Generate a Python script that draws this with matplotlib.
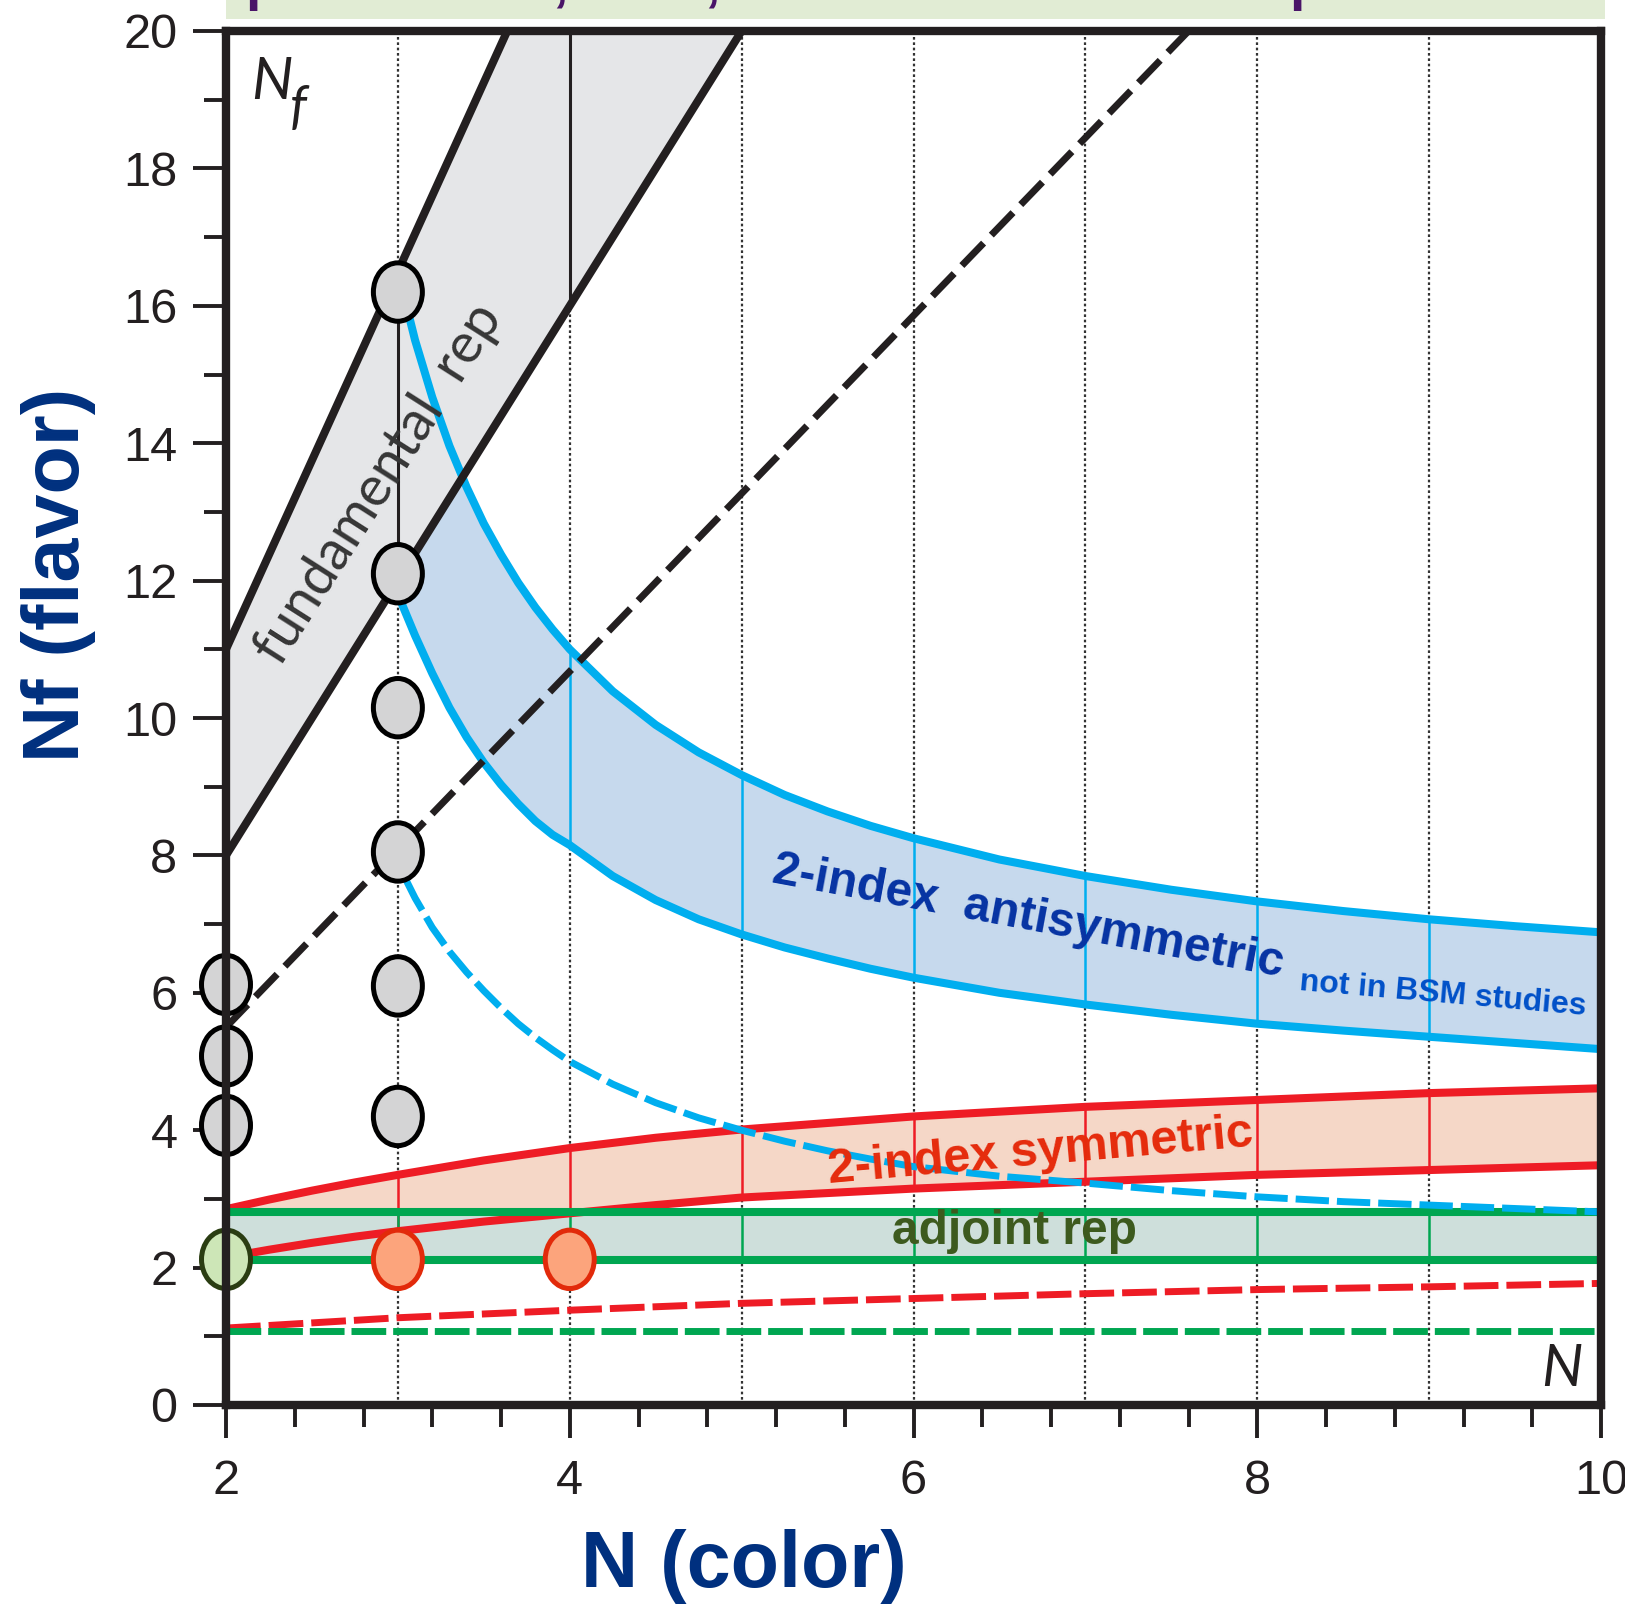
import numpy as np
import matplotlib
matplotlib.use("Agg")
import matplotlib.pyplot as plt
from matplotlib.patches import Ellipse, Rectangle
from matplotlib.ticker import MultipleLocator, FixedLocator

# ---------------- data ----------------
# fundamental representation band
fund_N = [2, 3, 4, 5]
fund_lo = [8, 12, 16, 20]
fund_hi = [11, 16.5, 22, 27.5]
fund_vert_N = [3, 4]

# black dashed line
bdash_N = [2, 7.6]
bdash_Nf = [5.5, 20]

# 2-index antisymmetric band (upper / lower boundaries)
blue_hi_N = [3.04, 3.1, 3.2, 3.3, 3.4, 3.5, 3.6, 3.7, 3.8, 3.9, 4.0, 4.25, 4.5,
             4.75, 5, 5.25, 5.5, 5.75, 6, 6.5, 7, 7.5, 8, 8.5, 9, 9.5, 10]
blue_hi = [16.1, 15.5, 14.67, 13.96, 13.36, 12.83, 12.38, 11.97, 11.61, 11.29, 11.0,
           10.39, 9.9, 9.5, 9.17, 8.88, 8.64, 8.43, 8.25, 7.94, 7.7, 7.5, 7.33, 7.19,
           7.07, 6.97, 6.88]
blue_lo_N = [3.0, 3.1, 3.2, 3.3, 3.4, 3.5, 3.6, 3.7, 3.8, 3.9, 4.0, 4.25, 4.5,
             4.75, 5, 5.25, 5.5, 5.75, 6, 6.5, 7, 7.5, 8, 8.5, 9, 9.5, 10]
blue_lo = [11.8, 11.2, 10.65, 10.15, 9.72, 9.35, 9.03, 8.75, 8.5, 8.3, 8.15, 7.7, 7.35,
           7.07, 6.85, 6.66, 6.5, 6.35, 6.22, 6.0, 5.83, 5.68, 5.55, 5.45, 5.36, 5.27, 5.18]
blue_vert_N = [4, 5, 6, 7, 8, 9]

# blue dashed curve
bldash_N = [3.05, 3.1, 3.2, 3.3, 3.4, 3.5, 3.6, 3.7, 3.8, 3.9, 4.0, 4.25, 4.5, 4.75,
            5, 5.25, 5.5, 5.75, 6, 6.5, 7, 7.5, 8, 8.5, 9, 9.5, 10]
bldash_Nf = [7.63, 7.38, 6.95, 6.6, 6.3, 6.03, 5.78, 5.55, 5.35, 5.17, 5.0, 4.67, 4.4,
             4.18, 4.0, 3.84, 3.7, 3.58, 3.47, 3.33, 3.23, 3.12, 3.03, 2.96, 2.91, 2.86, 2.81]

# 2-index symmetric band
red_N = [2, 2.25, 2.5, 2.75, 3, 3.5, 4, 4.5, 5, 6, 7, 8, 9, 10]
red_hi = [2.85, 2.99, 3.12, 3.24, 3.35, 3.56, 3.74, 3.89, 4.01, 4.20, 4.34, 4.44, 4.54, 4.61]
red_lo = [2.15, 2.26, 2.36, 2.45, 2.53, 2.67, 2.79, 2.91, 3.02, 3.15, 3.25, 3.35, 3.42, 3.49]
red_vert_N = [3, 4, 5, 6, 7, 8, 9]

# red dashed curve
rdash_N = [2, 3, 4, 5, 6, 7, 8, 9, 10]
rdash_Nf = [1.12, 1.27, 1.38, 1.48, 1.55, 1.62, 1.68, 1.72, 1.77]

# adjoint band
adj_N = [2, 10]
adj_hi = [2.81, 2.81]
adj_lo = [2.11, 2.11]
adj_vert_N = [3, 4, 5, 6, 7, 8, 9]
gdash_Nf = [1.08, 1.08]

# markers (lattice studies)
gray_pts_N = [2, 2, 2, 3, 3, 3, 3, 3, 3]
gray_pts_Nf = [6.12, 5.08, 4.07, 16.2, 12.1, 10.15, 8.05, 6.1, 4.2]
green_pts_N = [2]
green_pts_Nf = [2.12]
orange_pts_N = [3, 4]
orange_pts_Nf = [2.12, 2.12]

grid_N = [3, 4, 5, 6, 7, 8, 9]
y_major = [0, 2, 4, 6, 8, 10, 12, 14, 16, 18, 20]
x_major = [2, 4, 6, 8, 10]

# ---------------- styling ----------------
BLACK = "#231f20"
BLUE = "#00aeef"
RED = "#ee1c25"
GREEN = "#00a651"
NAVY = "#00307f"

W, H = 1625, 1618
fig = plt.figure(figsize=(W / 100, H / 100), dpi=100)
ax = fig.add_axes([226 / W, 1 - 1405 / H, 1375 / W, 1374 / H])
ax.set_xlim(2, 10)
ax.set_ylim(0, 20)

# banner at the top (cut off in the original)
fig.patches.append(Rectangle((226 / W, 1 - 19 / H), 1379 / W, 19 / H,
                             transform=fig.transFigure, facecolor="#e1ecd4",
                             edgecolor="none", zorder=0))
for xp, ch in [(262, "p"), (560, ","), (712, ","), (1306, "p")]:
    fig.text(xp / W, 1 + 1.0 / H, ch, color="#4a1468", fontsize=40,
             fontweight="bold", family="Liberation Sans", ha="center",
             va="baseline")

# dotted grid
for n in grid_N:
    ax.plot([n, n], [0, 20], color="#333333", lw=1.6, ls=(0, (1.2, 1.2)), zorder=1)

# fills
blue_fill_hi = np.interp(blue_lo_N, blue_hi_N, blue_hi, left=16.5)
ax.fill_between(blue_lo_N, blue_lo, blue_fill_hi, color="#c6d9ed", lw=0, zorder=2)
ax.fill_between(red_N, red_lo, red_hi, color="#f5d7c7", lw=0, zorder=2)
ax.fill_between(adj_N, adj_lo, adj_hi, color="#cedfdb", lw=0, zorder=2.5)
ax.fill_between(fund_N, fund_lo, fund_hi, color="#e5e6e8", lw=0, zorder=3)

# thin vertical lines inside bands
for n in fund_vert_N:
    ax.plot([n, n], [np.interp(n, fund_N, fund_lo), np.interp(n, fund_N, fund_hi)],
            color=BLACK, lw=2.2, zorder=3.5)
for n in blue_vert_N:
    ax.plot([n, n], [np.interp(n, blue_lo_N, blue_lo), np.interp(n, blue_hi_N, blue_hi)],
            color=BLUE, lw=1.8, zorder=3.5)
for n in red_vert_N:
    ax.plot([n, n], [np.interp(n, red_N, red_lo), np.interp(n, red_N, red_hi)],
            color=RED, lw=1.8, zorder=3.5)
for n in adj_vert_N:
    ax.plot([n, n], [adj_lo[0], adj_hi[0]], color=GREEN, lw=1.8, zorder=3.6)

# band boundaries
LW = 5.8
ax.plot(blue_hi_N, blue_hi, color=BLUE, lw=LW, zorder=4, solid_capstyle="butt")
ax.plot(blue_lo_N, blue_lo, color=BLUE, lw=LW, zorder=4, solid_capstyle="butt")
ax.plot(red_N, red_hi, color=RED, lw=LW, zorder=4, solid_capstyle="butt")
ax.plot(red_N, red_lo, color=RED, lw=LW, zorder=4, solid_capstyle="butt")
ax.plot(adj_N, adj_hi, color=GREEN, lw=LW, zorder=4.5, solid_capstyle="butt")
ax.plot(adj_N, adj_lo, color=GREEN, lw=LW, zorder=4.5, solid_capstyle="butt")
ax.plot(fund_N, fund_hi, color=BLACK, lw=LW, zorder=5)
ax.plot(fund_N, fund_lo, color=BLACK, lw=LW, zorder=5)

# dashed curves
DLW = 5.0
ax.plot(rdash_N, rdash_Nf, color=RED, lw=DLW, ls=(0, (5.0, 1.15)), zorder=4)
ax.plot(adj_N, gdash_Nf, color=GREEN, lw=DLW, ls=(0, (5.0, 1.0)), zorder=4)
ax.plot(bldash_N, bldash_Nf, color=BLUE, lw=DLW, ls=(0, (4.8, 1.15)), zorder=4.6)
ax.plot(bdash_N, bdash_Nf, color=BLACK, lw=DLW, ls=(0, (4.5, 1.6)), zorder=5)

# markers
EW, EH = 0.285, 0.85
for n, f in zip(gray_pts_N, gray_pts_Nf):
    ax.add_patch(Ellipse((n, f), EW, EH, facecolor="#d4d4d5", edgecolor="black",
                         lw=3.6, zorder=7, clip_on=False))
for n, f in zip(green_pts_N, green_pts_Nf):
    ax.add_patch(Ellipse((n, f), EW, EH, facecolor="#cde6b7", edgecolor="#2a3d12",
                         lw=3.6, zorder=7, clip_on=False))
for n, f in zip(orange_pts_N, orange_pts_Nf):
    ax.add_patch(Ellipse((n, f), EW, EH, facecolor="#fca47c", edgecolor="#e22a0a",
                         lw=3.6, zorder=7, clip_on=False))

# in-plot texts
NARROW = ["Liberation Sans Narrow", "Liberation Sans", "DejaVu Sans"]
ax.text(2.89, 13.4, "fundamental  rep", rotation=57.5, rotation_mode="anchor",
        ha="center", va="center", fontsize=40, color="#363636", family="Lato",
        zorder=6)
ax.text(6.67, 7.1, "2-index  antisymmetric", rotation=-10.5, rotation_mode="anchor",
        ha="center", va="center", fontsize=34.5, color="#0633a3", fontweight="bold",
        family=NARROW, zorder=6)
ax.text(9.08, 5.97, "not in BSM studies", rotation=-5, rotation_mode="anchor",
        ha="center", va="center", fontsize=23, color="#0050c8", fontweight="bold",
        family=NARROW, zorder=6)
ax.text(6.74, 3.68, "2-index symmetric", rotation=5, rotation_mode="anchor",
        ha="center", va="center", fontsize=35, color="#e52b0c", fontweight="bold",
        family=NARROW, zorder=6)
ax.text(6.59, 2.53, "adjoint rep", ha="center", va="center", fontsize=34.5,
        color="#3d5a1e", fontweight="bold", family=NARROW, zorder=6)
ax.text(2.265, 19.25, "N", ha="center", va="center", fontsize=42, style="italic",
        color=BLACK, family="Lato", zorder=6)
ax.text(2.42, 18.88, "f", ha="center", va="center", fontsize=38, style="italic",
        color=BLACK, family="Lato", zorder=6)
ax.text(9.775, 0.52, "N", ha="center", va="center", fontsize=42, style="italic",
        color=BLACK, family="Lato", zorder=6)

# axes styling
for sp in ax.spines.values():
    sp.set_linewidth(6)
    sp.set_color(BLACK)
    sp.set_zorder(8)
ax.xaxis.set_major_locator(FixedLocator(x_major))
ax.xaxis.set_minor_locator(MultipleLocator(0.4))
ax.yaxis.set_major_locator(FixedLocator(y_major))
ax.yaxis.set_minor_locator(MultipleLocator(1))
ax.set_xticklabels([str(v) for v in x_major])
ax.set_yticklabels([str(v) for v in y_major])
ax.tick_params(which="major", direction="out", length=24, width=2.8, color=BLACK,
               labelsize=35, labelcolor=BLACK)
ax.tick_params(which="minor", direction="out", length=16, width=2.8, color=BLACK)
ax.tick_params(axis="x", which="major", pad=15)
ax.tick_params(axis="y", which="major", pad=11)
for lab in ax.get_xticklabels() + ax.get_yticklabels():
    lab.set_family("Liberation Sans")

fig.text(59 / W, 1 - 575 / H, "Nf (flavor)", rotation=90, ha="center", va="center",
         fontsize=57, fontweight="bold", color=NAVY, family="Liberation Sans")
fig.text(744 / W, 1 - 1567 / H, "N (color)", ha="center", va="center",
         fontsize=57, fontweight="bold", color=NAVY, family="Liberation Sans")

fig.savefig("out.png", dpi=100)
